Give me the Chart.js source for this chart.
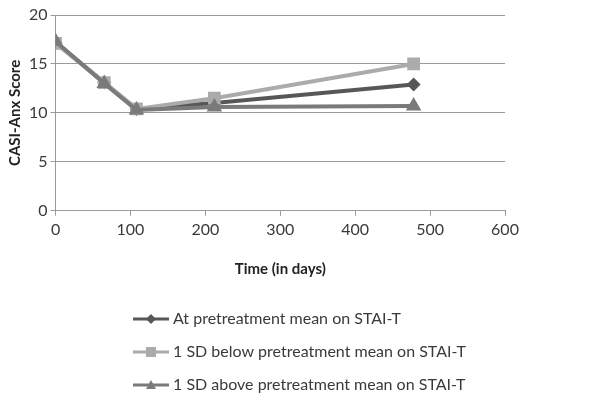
<!DOCTYPE html>
<html>
<head>
<meta charset="utf-8">
<script src="https://cdn.jsdelivr.net/npm/chart.js@4"></script>
<style>
  html, body { margin: 0; padding: 0; background: #fff; }
  #wrap { width: 604px; height: 403px; }
</style>
</head>
<body>
<div id="wrap"><canvas id="casiChart"></canvas></div>
<script>
// time points (days) and CASI-Anx scores
const days = [0, 65, 108, 212, 478];
const atMean = [17.2, 13.1, 10.4, 11.0, 12.9];
const belowMean = [17.1, 13.1, 10.4, 11.5, 15.0];
const aboveMean = [17.3, 13.0, 10.3, 10.6, 10.7];
const seriesNames = [
    'At pretreatment mean on STAI-T',
    '1 SD below pretreatment mean on STAI-T',
    '1 SD above pretreatment mean on STAI-T'
];

const fontName = 'Lato, "Open Sans", sans-serif';
const textColor = '#3a3a3a';

function toPoints(values) {
    let pts = [];
    for (let i in values) {
        pts.push({ x: days[i], y: values[i] });
    }
    return pts;
}

// small line + marker swatch for the legend
function legendSwatch(color, style) {
    const c = document.createElement('canvas');
    c.width = 36;
    c.height = 14;
    const g = c.getContext('2d');
    g.strokeStyle = color;
    g.fillStyle = color;
    g.lineWidth = 3;
    g.beginPath();
    g.moveTo(0, 7);
    g.lineTo(36, 7);
    g.stroke();
    g.beginPath();
    if (style === 'rectRot') {
        g.moveTo(18, 2); g.lineTo(23, 7); g.lineTo(18, 12); g.lineTo(13, 7);
    } else if (style === 'rect') {
        g.rect(13, 2, 10, 10);
    } else {
        g.moveTo(18, 2); g.lineTo(23, 11); g.lineTo(13, 11);
    }
    g.closePath();
    g.fill();
    return c;
}

const colors = ['#575757', '#ababab', '#7a7a7a'];
const styles = ['rectRot', 'rect', 'triangle'];
const radii = [7, 9, 9];
const seriesData = [atMean, belowMean, aboveMean];

let datasets = [];
for (let i = 0; i < 3; i++) {
    datasets.push({
        label: seriesNames[i],
        data: toPoints(seriesData[i]),
        borderColor: colors[i],
        backgroundColor: colors[i],
        borderWidth: 4,
        pointStyle: styles[i],
        pointRadius: radii[i],
        pointBorderWidth: 0,
        order: 3 - i,
        swatch: legendSwatch(colors[i], styles[i])
    });
}

// put the legend block at a fixed left edge, like the original
const legendShift = {
    id: 'legendShift',
    afterLayout(chart) {
        chart.legend.left = 120;
    }
};

new Chart(document.getElementById('casiChart'), {
    type: 'line',
    data: { datasets: datasets },
    plugins: [legendShift],
    options: {
        responsive: true,
        maintainAspectRatio: false,
        animation: false,
        layout: { padding: { top: 15, right: 99, left: 2, bottom: 0 } },
        scales: {
            x: {
                type: 'linear',
                min: 0,
                max: 600,
                ticks: { stepSize: 100, color: textColor, font: { family: fontName, size: 16 }, padding: 4 },
                grid: { drawOnChartArea: false, color: '#9a9a9a', tickLength: 5 },
                border: { color: '#9a9a9a' },
                title: {
                    display: true,
                    text: 'Time (in days)',
                    color: '#222',
                    font: { family: fontName, size: 15, weight: 'bold' },
                    padding: { top: 17, bottom: 16 }
                }
            },
            y: {
                min: 0,
                max: 20,
                ticks: { stepSize: 5, color: textColor, font: { family: fontName, size: 16 }, padding: 3 },
                grid: { color: '#9a9a9a', tickLength: 5 },
                border: { color: '#9a9a9a' },
                title: {
                    display: true,
                    text: 'CASI-Anx Score',
                    color: '#222',
                    font: { family: fontName, size: 15, weight: 'bold' },
                    padding: { bottom: 2 }
                }
            }
        },
        plugins: {
            tooltip: { enabled: false },
            legend: {
                position: 'bottom',
                align: 'start',
                labels: {
                    usePointStyle: true,
                    pointStyleWidth: 28,
                    padding: 17,
                    color: textColor,
                    font: { family: fontName, size: 16 },
                    sort: (a, b) => a.datasetIndex - b.datasetIndex,
                    generateLabels(chart) {
                        const items = Chart.defaults.plugins.legend.labels.generateLabels(chart);
                        for (let it of items) {
                            it.pointStyle = chart.data.datasets[it.datasetIndex].swatch;
                        }
                        return items;
                    }
                }
            }
        }
    }
});
</script>
</body>
</html>
